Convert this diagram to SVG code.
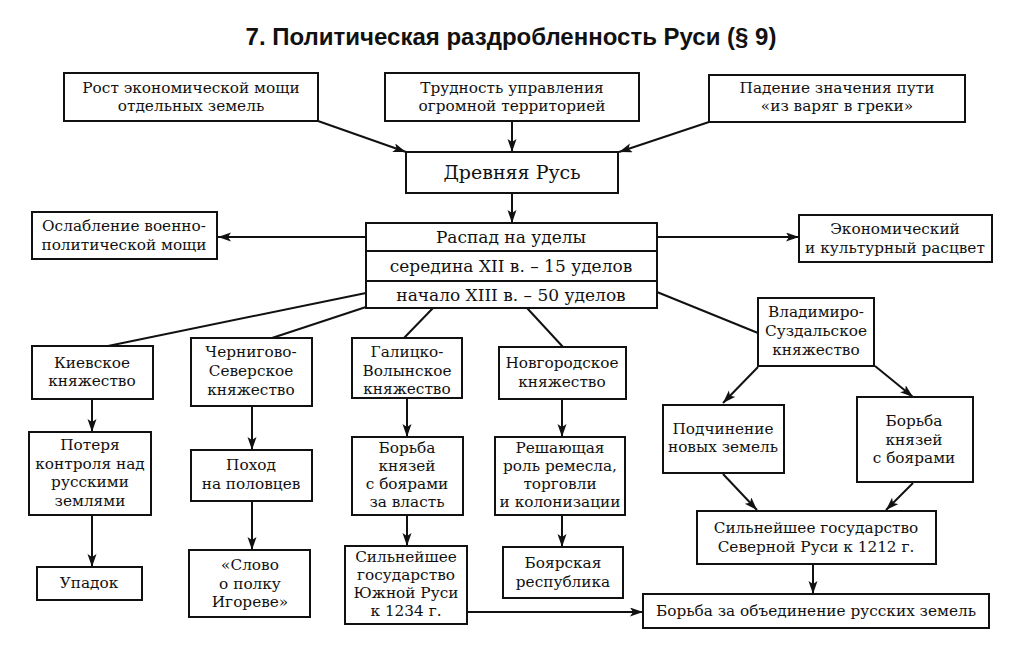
<svg xmlns="http://www.w3.org/2000/svg" width="1024" height="645" viewBox="0 0 1024 645">
<defs>
<marker id="ah" markerUnits="userSpaceOnUse" markerWidth="14" markerHeight="10" refX="13" refY="4.5" orient="auto">
<path d="M0,0 L13,4.5 L0,9 L3,4.5 z" fill="#111"/>
</marker>
<style>
.b{fill:#fff;stroke:#111;stroke-width:2}
.t{font-family:"DejaVu Serif","Liberation Serif",serif;font-size:15.3px;fill:#111;text-anchor:middle}
.r{font-size:17px}
.c line{stroke:#111;stroke-width:2}
.a{marker-end:url(#ah)}
</style>
</defs>
<rect width="1024" height="645" fill="#fff"/>
<text x="511" y="45" style="font-family:'Liberation Sans',Arial,sans-serif;font-weight:bold;font-size:24px;fill:#111" text-anchor="middle">7. Политическая раздробленность Руси (§ 9)</text>

<g class="c">
<line class="a" x1="318" y1="121" x2="406" y2="152"/>
<line class="a" x1="512" y1="121" x2="512" y2="152"/>
<line class="a" x1="709" y1="122" x2="619" y2="152"/>
<line class="a" x1="512" y1="193" x2="512" y2="223"/>
<line class="a" x1="366" y1="237" x2="218" y2="237"/>
<line class="a" x1="657" y1="237" x2="799" y2="237"/>
<line x1="366" y1="293" x2="108" y2="346"/>
<line x1="366" y1="307" x2="272" y2="338"/>
<line x1="433" y1="308" x2="404" y2="338"/>
<line x1="527" y1="308" x2="563" y2="347"/>
<line x1="657" y1="292" x2="758" y2="333"/>
<line class="a" x1="92" y1="399" x2="92" y2="432"/>
<line class="a" x1="92" y1="515" x2="92" y2="567"/>
<line class="a" x1="252" y1="406" x2="252" y2="450"/>
<line class="a" x1="252" y1="501" x2="252" y2="550"/>
<line class="a" x1="407" y1="398" x2="407" y2="437"/>
<line class="a" x1="407" y1="515" x2="407" y2="546"/>
<line class="a" x1="562" y1="399" x2="562" y2="437"/>
<line class="a" x1="562" y1="515" x2="562" y2="547"/>
<line class="a" x1="468" y1="612" x2="643" y2="612"/>
<line class="a" x1="758" y1="367" x2="723" y2="403"/>
<line class="a" x1="875" y1="366" x2="913" y2="397"/>
<line class="a" x1="723" y1="474" x2="757" y2="510"/>
<line class="a" x1="913" y1="483" x2="886" y2="510"/>
<line class="a" x1="813" y1="564" x2="813" y2="594"/>
</g>

<g id="n_rost"><rect class="b" x="64" y="73" width="254" height="48"/>
<text class="t" x="191" y="93">Рост экономической мощи</text>
<text class="t" x="191" y="111">отдельных земель</text></g>

<g id="n_trud"><rect class="b" x="385" y="73" width="254" height="48"/>
<text class="t" x="512" y="93">Трудность управления</text>
<text class="t" x="512" y="111">огромной территорией</text></g>

<g id="n_pad"><rect class="b" x="709" y="75" width="256" height="47"/>
<text class="t" x="837" y="93">Падение значения пути</text>
<text class="t" x="837" y="111">«из варяг в греки»</text></g>

<g id="n_drev"><rect class="b" x="406" y="152" width="212" height="41"/>
<text class="t" x="512" y="179" style="font-size:19px">Древняя Русь</text></g>

<g id="n_raspad"><rect class="b" x="366" y="223" width="291" height="85"/>
<line x1="366" y1="251" x2="657" y2="251" stroke="#111" stroke-width="2"/>
<line x1="366" y1="281" x2="657" y2="281" stroke="#111" stroke-width="2"/>
<text class="t r" x="511" y="243">Распад на уделы</text>
<text class="t r" x="511" y="272">середина XII в. – 15 уделов</text>
<text class="t r" x="511" y="301">начало XIII в. – 50 уделов</text></g>

<g id="n_oslab"><rect class="b" x="32" y="212" width="185" height="47"/>
<text class="t" x="124" y="231">Ослабление военно-</text>
<text class="t" x="124" y="250">политической мощи</text></g>

<g id="n_econ"><rect class="b" x="799" y="215" width="193" height="47"/>
<text class="t" x="895" y="234">Экономический</text>
<text class="t" x="895" y="253">и культурный расцвет</text></g>

<g id="n_kiev"><rect class="b" x="32" y="346" width="121" height="53"/>
<text class="t" x="92" y="368">Киевское</text>
<text class="t" x="92" y="386">княжество</text></g>

<g id="n_cher"><rect class="b" x="191" y="338" width="121" height="68"/>
<text class="t" x="251" y="357">Чернигово-</text>
<text class="t" x="251" y="376">Северское</text>
<text class="t" x="251" y="395">княжество</text></g>

<g id="n_gal"><rect class="b" x="352" y="338" width="110" height="60"/>
<text class="t" x="407" y="357">Галицко-</text>
<text class="t" x="407" y="376">Волынское</text>
<text class="t" x="407" y="394">княжество</text></g>

<g id="n_nov"><rect class="b" x="499" y="347" width="127" height="52"/>
<text class="t" x="562" y="368">Новгородское</text>
<text class="t" x="562" y="387">княжество</text></g>

<g id="n_vlad"><rect class="b" x="758" y="298" width="116" height="68"/>
<text class="t" x="816" y="317">Владимиро-</text>
<text class="t" x="816" y="336">Суздальское</text>
<text class="t" x="816" y="355">княжество</text></g>

<g id="n_poter"><rect class="b" x="29" y="432" width="122" height="83"/>
<text class="t" x="90" y="450">Потеря</text>
<text class="t" x="90" y="469">контроля над</text>
<text class="t" x="90" y="487">русскими</text>
<text class="t" x="90" y="506">землями</text></g>

<g id="n_pohod"><rect class="b" x="191" y="450" width="121" height="51"/>
<text class="t" x="251" y="470">Поход</text>
<text class="t" x="251" y="489">на половцев</text></g>

<g id="n_borg"><rect class="b" x="352" y="437" width="111" height="78"/>
<text class="t" x="407" y="453">Борьба</text>
<text class="t" x="407" y="471">князей</text>
<text class="t" x="407" y="489">с боярами</text>
<text class="t" x="407" y="507">за власть</text></g>

<g id="n_resh"><rect class="b" x="495" y="437" width="130" height="78"/>
<text class="t" x="560" y="453">Решающая</text>
<text class="t" x="560" y="471">роль ремесла,</text>
<text class="t" x="560" y="489">торговли</text>
<text class="t" x="560" y="507">и колонизации</text></g>

<g id="n_podch"><rect class="b" x="663" y="405" width="121" height="68"/>
<text class="t" x="723" y="434">Подчинение</text>
<text class="t" x="723" y="452">новых земель</text></g>

<g id="n_borv"><rect class="b" x="857" y="397" width="116" height="85"/>
<text class="t" x="914" y="426">Борьба</text>
<text class="t" x="914" y="445">князей</text>
<text class="t" x="914" y="463">с боярами</text></g>

<g id="n_upad"><rect class="b" x="37" y="567" width="105" height="33"/>
<text class="t" x="89" y="588">Упадок</text></g>

<g id="n_slovo"><rect class="b" x="189" y="550" width="121" height="67"/>
<text class="t" x="250" y="570">«Слово</text>
<text class="t" x="250" y="589">о полку</text>
<text class="t" x="250" y="607">Игореве»</text></g>

<g id="n_silyug"><rect class="b" x="345" y="546" width="122" height="78"/>
<text class="t" x="406" y="562">Сильнейшее</text>
<text class="t" x="406" y="580">государство</text>
<text class="t" x="406" y="598">Южной Руси</text>
<text class="t" x="406" y="616">к 1234 г.</text></g>

<g id="n_boyar"><rect class="b" x="503" y="547" width="120" height="51"/>
<text class="t" x="563" y="568">Боярская</text>
<text class="t" x="563" y="587">республика</text></g>

<g id="n_silsev"><rect class="b" x="697" y="511" width="239" height="53"/>
<text class="t" x="816" y="533">Сильнейшее государство</text>
<text class="t" x="816" y="552">Северной Руси к 1212 г.</text></g>

<g id="n_obed"><rect class="b" x="643" y="594" width="346" height="34"/>
<text class="t" x="816" y="616">Борьба за объединение русских земель</text></g>
</svg>
